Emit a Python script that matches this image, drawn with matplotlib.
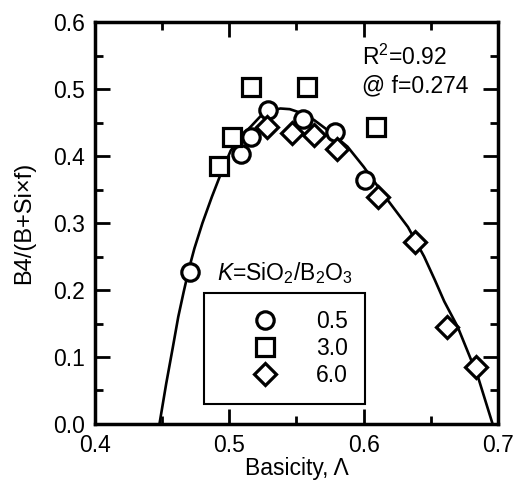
import matplotlib
matplotlib.use("Agg")
import matplotlib.pyplot as plt
from matplotlib.ticker import MultipleLocator

plt.rcParams['font.family'] = ['Liberation Sans', 'DejaVu Sans']
plt.rcParams['mathtext.fontset'] = 'custom'
plt.rcParams['mathtext.rm'] = 'Liberation Sans'
plt.rcParams['mathtext.it'] = 'Liberation Sans:italic'

# K = 0.5
x_k05 = [0.471, 0.509, 0.516, 0.529, 0.555, 0.579, 0.601]
y_k05 = [0.227, 0.403, 0.429, 0.469, 0.455, 0.436, 0.364]
# K = 3.0
x_k30 = [0.492, 0.502, 0.516, 0.558, 0.609]
y_k30 = [0.385, 0.429, 0.503, 0.503, 0.444]
# K = 6.0
x_k60 = [0.528, 0.547, 0.563, 0.580, 0.611, 0.638, 0.662, 0.684]
y_k60 = [0.444, 0.434, 0.431, 0.411, 0.339, 0.272, 0.145, 0.085]

# fitted curve
fit_x = [0.448, 0.453, 0.458, 0.462, 0.466, 0.470, 0.474, 0.480, 0.487, 0.493,
         0.501, 0.509, 0.516, 0.523, 0.530, 0.538, 0.545, 0.551, 0.563, 0.573,
         0.588, 0.600, 0.618, 0.633, 0.645, 0.653, 0.660, 0.670, 0.685, 0.696]
fit_y = [0.0, 0.060, 0.115, 0.160, 0.197, 0.232, 0.262, 0.300, 0.339, 0.370,
         0.408, 0.430, 0.444, 0.459, 0.467, 0.471, 0.470, 0.466, 0.454, 0.439,
         0.414, 0.384, 0.334, 0.294, 0.250, 0.215, 0.183, 0.145, 0.071, 0.0]

fig = plt.figure(figsize=(5.19, 4.80), dpi=100)
ax = fig.add_axes([0.183, 0.1167, 0.7765, 0.8373])

ax.plot(fit_x, fit_y, color='black', lw=1.9, zorder=1)

mk = dict(color='none', mec='black', mfc='white', mew=2.3, ls='none', zorder=3)
ax.plot(x_k05, y_k05, marker='o', ms=12.5, label='0.5', **mk)
ax.plot(x_k30, y_k30, marker='s', ms=12.5, label='3.0', **mk)
ax.plot(x_k60, y_k60, marker='D', ms=11, label='6.0', **mk)

ax.set_xlim(0.4, 0.7)
ax.set_ylim(0.0, 0.6)
ax.xaxis.set_minor_locator(MultipleLocator(0.05))
ax.yaxis.set_minor_locator(MultipleLocator(0.05))
ax.set_xticks([0.4, 0.5, 0.6, 0.7])
ax.set_xticklabels(['0.4', '0.5', '0.6', '0.7'])
ax.set_yticks([0.0, 0.1, 0.2, 0.3, 0.4, 0.5, 0.6])
ax.set_yticklabels(['0.0', '0.1', '0.2', '0.3', '0.4', '0.5', '0.6'])

ax.tick_params(which='both', direction='in', top=True, right=True, width=2,
               labelsize=16.5)
ax.tick_params(axis='x', pad=7)
ax.tick_params(axis='y', pad=7)
ax.tick_params(which='major', length=11)
ax.tick_params(which='minor', length=5.5)
for s in ax.spines.values():
    s.set_linewidth(2.5)

ax.set_xlabel('Basicity, Λ', fontsize=16.5, labelpad=0)
ax.set_ylabel('B4/(B+Si×f)', fontsize=17, labelpad=13)

ax.text(0.599, 0.548, 'R$^2$=0.92', fontsize=16.5, va='center', ha='left')
ax.text(0.599, 0.504, '@ f=0.274', fontsize=16.5, va='center', ha='left')
ax.text(0.491, 0.225, r'$\it{K}$=SiO$_2$/B$_2$O$_3$', fontsize=16.5,
        va='center', ha='left')

leg = ax.legend(loc='upper left', bbox_to_anchor=(0.270, 0.327), fontsize=16.5,
                frameon=True, fancybox=False, edgecolor='black', borderpad=0.75,
                handlelength=3.85, handletextpad=0.3, labelspacing=0.18,
                borderaxespad=0)
leg.get_frame().set_linewidth(1.5)
leg.get_frame().set_alpha(1)

fig.savefig('out.png', dpi=100)
